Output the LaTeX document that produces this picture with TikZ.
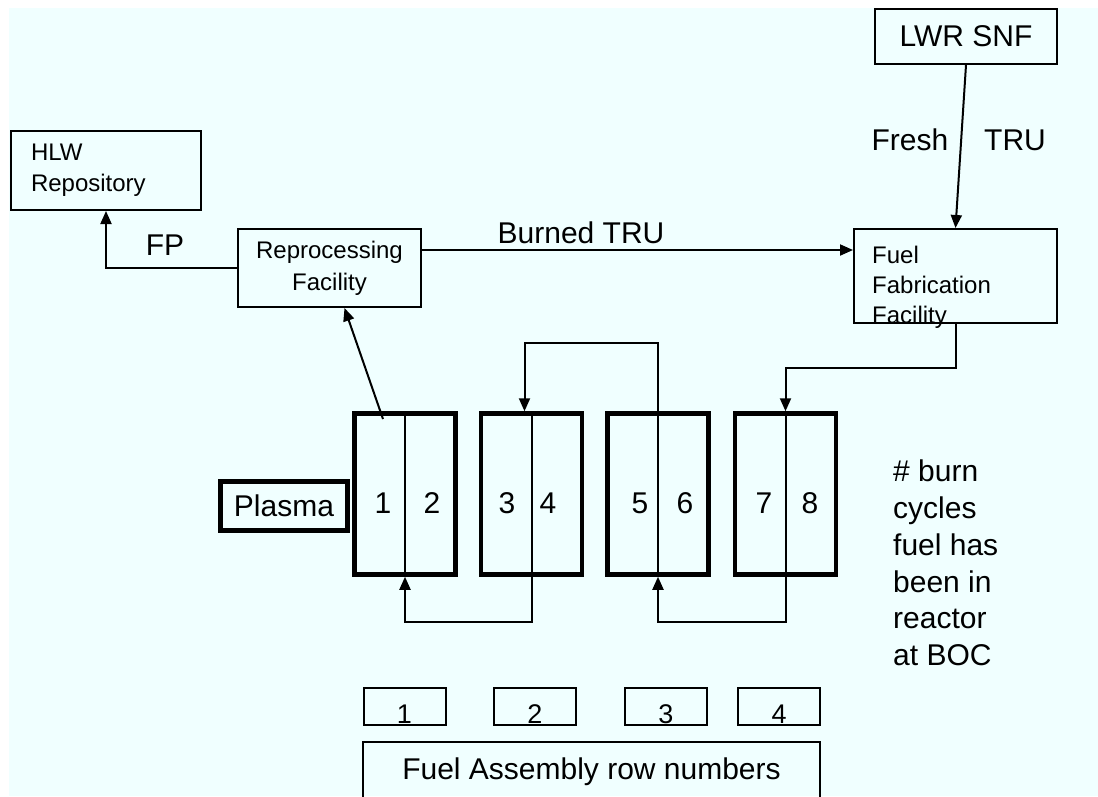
\documentclass[tikz,border=0pt]{standalone}
\usepackage{fontspec}
\setmainfont{Liberation Sans}
\usetikzlibrary{positioning, arrows.meta}
\definecolor{paleaqua}{HTML}{F0FFFF}

\begin{document}
\begin{tikzpicture}[x=1pt, y=-1pt, font=\fontsize{30}{36}\selectfont,
                every node/.style={inner sep=0pt},
                box/.style={draw=black, line width=2pt},
                core/.style={draw=black, line width=4.5pt, minimum width=101pt, minimum height=161pt},
                rowbox/.style={draw=black, line width=2pt, minimum width=82pt, minimum height=37pt, text height=35pt, text depth=2pt, font=\fontsize{27}{30}\selectfont},
                flow/.style={draw=black, line width=2pt, -{Triangle[length=13pt, width=11pt]}},
                small/.style={font=\fontsize{24}{31}\selectfont}]

                \useasboundingbox (0,0) rectangle (1098,796);
                \fill[paleaqua] (9,8) rectangle (1098,796);

                % facilities
                \node[box, small, align=left, text width=150pt, inner xsep=20pt, minimum height=79pt] (HLW Repository) at (106,170.5) {HLW\\Repository};
                \node[box, small, align=center, minimum width=183pt, minimum height=78pt, font=\fontsize{24}{32}\selectfont] (Reprocessing Facility) at (329.5,268) {Reprocessing\\Facility};
                \node[box, minimum width=203pt, minimum height=94pt] (Fuel Fabrication) at (955.5,276) {};
                \node[align=left, anchor=north west, font=\fontsize{24}{30}\selectfont] (Fuel Fabrication text) at (872,246) {Fuel\\Fabrication\\Facility};
                \node[box, minimum width=182pt, minimum height=55pt] (LWR SNF) at (966,36.5) {LWR SNF};

                % reactor
                \node[draw=black, line width=4.5pt, minimum width=127pt, minimum height=49pt] (Plasma) at (284,506) {Plasma};
                \node[core] (Row 1) at (405,494) {};
                \node[core] (Row 2) at (531.5,494) {};
                \node[core] (Row 3) at (658,494) {};
                \node[core] (Row 4) at (785.5,494) {};
                \draw[line width=2pt] (Row 1.north) -- (Row 1.south);
                \draw[line width=2pt] (Row 2.north) -- (Row 2.south);
                \draw[line width=2pt] (Row 3.north) -- (Row 3.south);
                \draw[line width=2pt] (Row 4.north) -- (Row 4.south);
                \node (Cycle 1) at (383,503) {1};
                \node (Cycle 2) at (432,503) {2};
                \node (Cycle 3) at (507,503) {3};
                \node (Cycle 4) at (548,503) {4};
                \node (Cycle 5) at (640,503) {5};
                \node (Cycle 6) at (685,503) {6};
                \node (Cycle 7) at (764,503) {7};
                \node (Cycle 8) at (810,503) {8};

                % row numbers
                \node[rowbox] (Row label 1) at (404.5,706.5) {1};
                \node[rowbox] (Row label 2) at (535,706.5) {2};
                \node[rowbox] (Row label 3) at (666,706.5) {3};
                \node[rowbox] (Row label 4) at (779,706.5) {4};
                \node[box, minimum width=457pt, minimum height=60pt] (Fuel Assembly) at (591.5,772) {Fuel Assembly row numbers};

                % labels
                \node (FP) at (165,245) {FP};
                \node (Burned TRU) at (581,233) {Burned TRU};
                \node (Fresh) at (910,140) {Fresh};
                \node (TRU) at (1015,140) {TRU};
                \node[align=left, anchor=west, font=\fontsize{30}{36.7}\selectfont] (burn note) at (893,563) {\# burn\\cycles\\fuel has\\been in\\reactor\\at BOC};

                % flows
                \coordinate (spent) at (383,419);
                \draw[flow] (Reprocessing Facility.west) -| (HLW Repository.south);
                \draw[flow] ([yshift=18pt]Reprocessing Facility.east) -- ([yshift=18pt]Reprocessing Facility.east -| Fuel Fabrication.west);
                \draw[flow] (LWR SNF.south) -- (Fuel Fabrication.north);
                \draw[flow] (Fuel Fabrication.south) -- ++(0,44) -| (Row 4.north);
                \draw[flow] (Row 3.north) -- ++(0,-68) -| ([xshift=-7pt]Row 2.north);
                \draw[flow] (Row 2.south) -- ++(0,45) -| (Row 1.south);
                \draw[flow] (Row 4.south) -- ++(0,45) -| (Row 3.south);
                \draw[flow] (spent) -- ([xshift=15pt]Reprocessing Facility.south);

            \end{tikzpicture}
\end{document}
